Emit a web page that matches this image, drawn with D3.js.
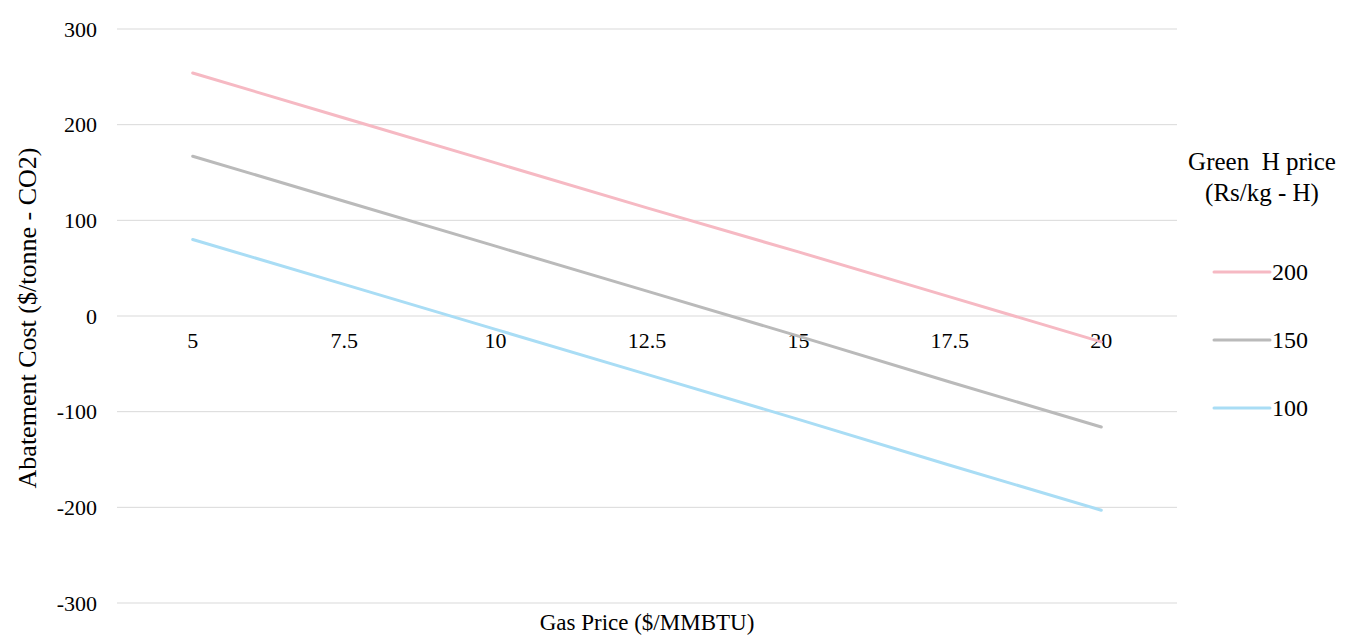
<!DOCTYPE html>
<html>
<head>
<meta charset="utf-8">
<script src="https://cdn.jsdelivr.net/npm/d3@7"></script>
<style>
  body { margin: 0; background: #fff; }
  text { font-family: "Liberation Serif", "DejaVu Serif", serif; fill: #000; white-space: pre; }
</style>
</head>
<body>
<div id="chart"></div>
<script>
// Data
const gasPrices = ["5", "7.5", "10", "12.5", "15", "17.5", "20"];
const h200 = [254, 207, 160, 113, 67, 20, -27];
const h150 = [167, 120, 73, 26, -21, -69, -116];
const h100 = [80, 33, -14, -61, -108, -156, -203];
const seriesNames = ["200", "150", "100"];
const seriesColors = ["#f6b9c3", "#bababa", "#a9ddf5"];
const yTicks = [-300, -200, -100, 0, 100, 200, 300];

const W = 1349, H = 635;
const margin = { top: 29, right: 172, bottom: 32, left: 117 },
      width = W - margin.left - margin.right,
      height = H - margin.top - margin.bottom;

const svg = d3.select("#chart")
    .append("svg")
    .attr("width", W)
    .attr("height", H);

const g = svg.append("g")
    .attr("transform", `translate(${margin.left},${margin.top})`);

const x = d3.scalePoint()
    .domain(gasPrices)
    .range([0, width])
    .padding(0.5);

const y = d3.scaleLinear()
    .domain([-300, 300])
    .range([height, 0]);

// Gridlines
g.selectAll(".grid")
    .data(yTicks)
    .join("line")
    .attr("x1", 0)
    .attr("x2", width)
    .attr("y1", d => y(d))
    .attr("y2", d => y(d))
    .attr("stroke", "#d9d9d9")
    .attr("stroke-width", 1);

// Y tick labels
g.selectAll(".ylab")
    .data(yTicks)
    .join("text")
    .attr("x", -20)
    .attr("y", d => y(d))
    .attr("dy", "0.35em")
    .attr("text-anchor", "end")
    .style("font-size", "22px")
    .text(d => d);

// X tick labels sit just below the zero line
g.selectAll(".xlab")
    .data(gasPrices)
    .join("text")
    .attr("x", d => x(d))
    .attr("y", y(0) + 32)
    .attr("text-anchor", "middle")
    .style("font-size", "22px")
    .text(d => d);

// Lines
const line = d3.line()
    .x((d, i) => x(gasPrices[i]))
    .y(d => y(d));

[h200, h150, h100].forEach((s, i) => {
    g.append("path")
        .datum(s)
        .attr("fill", "none")
        .attr("stroke", seriesColors[i])
        .attr("stroke-width", 3)
        .attr("stroke-linecap", "round")
        .attr("d", line);
});

// Axis titles
svg.append("text")
    .attr("x", margin.left + width / 2)
    .attr("y", 630)
    .attr("text-anchor", "middle")
    .style("font-size", "23px")
    .text("Gas Price ($/MMBTU)");

svg.append("text")
    .attr("transform", `translate(36,318) rotate(-90)`)
    .attr("text-anchor", "middle")
    .style("font-size", "26px")
    .text("Abatement Cost ($/tonne - CO2)");

// Legend
const legend = svg.append("g")
    .attr("transform", "translate(1262,0)");

legend.append("text")
    .attr("x", 0)
    .attr("y", 170)
    .attr("text-anchor", "middle")
    .style("font-size", "25px")
    .text("Green  H price");

legend.append("text")
    .attr("x", 0)
    .attr("y", 201)
    .attr("text-anchor", "middle")
    .style("font-size", "25px")
    .text("(Rs/kg - H)");

seriesNames.forEach((n, i) => {
    const ly = 272 + i * 68;
    legend.append("line")
        .attr("x1", -48)
        .attr("x2", 8)
        .attr("y1", ly)
        .attr("y2", ly)
        .attr("stroke", seriesColors[i])
        .attr("stroke-width", 3)
        .attr("stroke-linecap", "round");
    legend.append("text")
        .attr("x", 10)
        .attr("y", ly)
        .attr("dy", "0.35em")
        .style("font-size", "24px")
        .text(n);
});
</script>
</body>
</html>
